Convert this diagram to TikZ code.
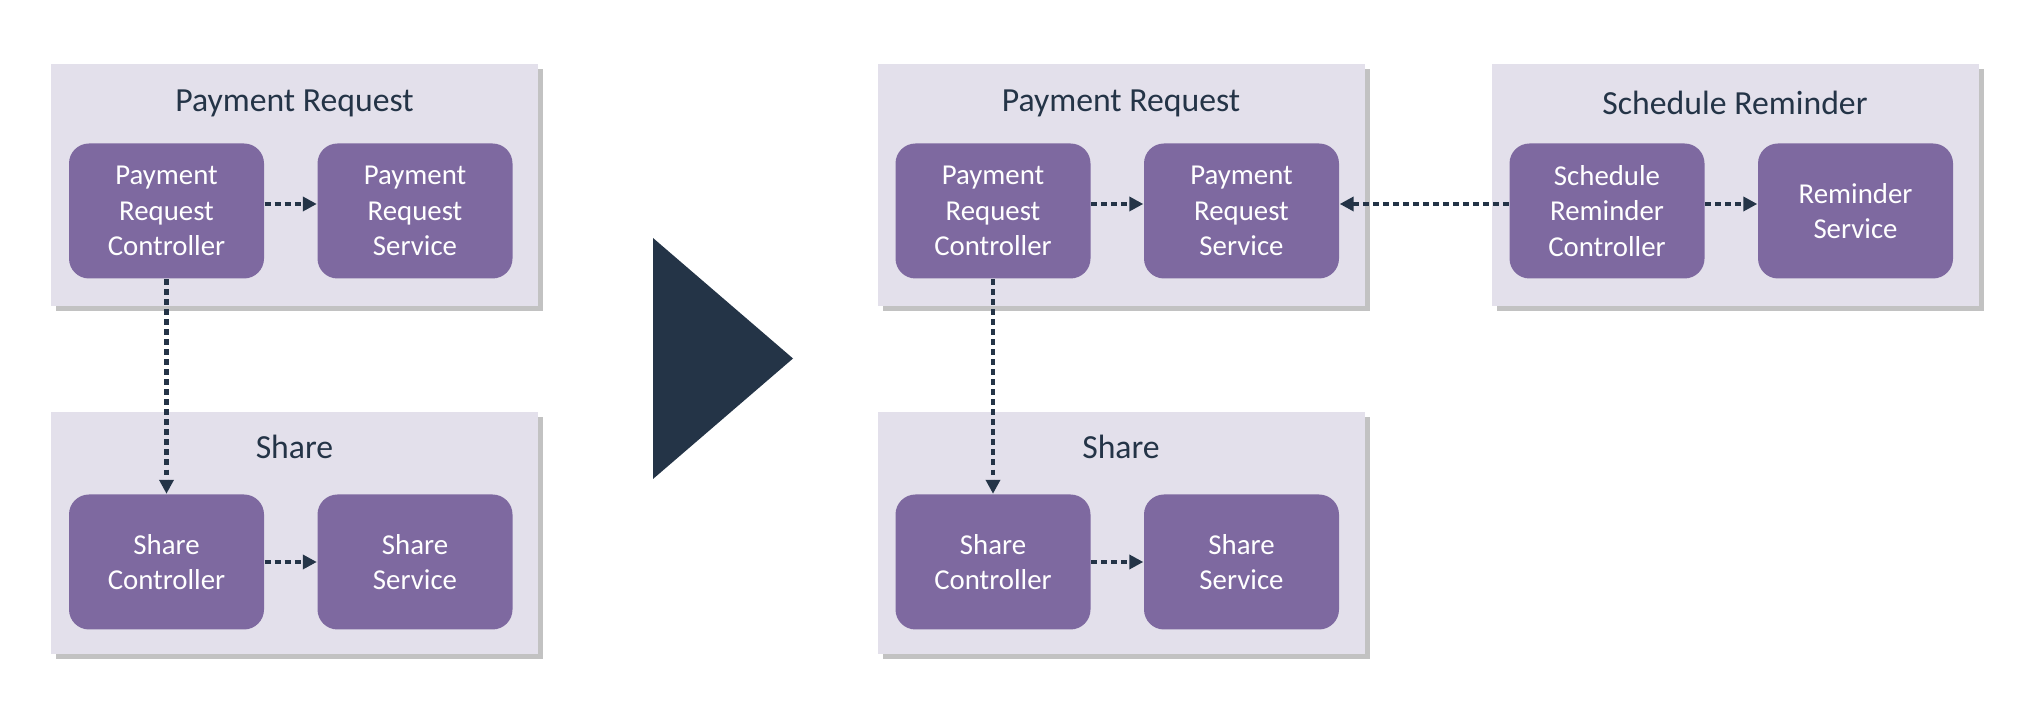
\documentclass[tikz,border=0pt]{standalone}
\usepackage{fontspec}
\setmainfont{Carlito}
\usetikzlibrary{arrows.meta, shadows}
\definecolor{grpfill}{HTML}{E3E0EB}
\definecolor{boxfill}{HTML}{7E69A0}
\definecolor{navy}{HTML}{243447}

\begin{document}
\begin{tikzpicture}[
  group/.style={rectangle, fill=grpfill, minimum width=4.87cm, minimum height=2.42cm, inner sep=0pt,
    drop shadow={shadow xshift=0.05cm, shadow yshift=-0.05cm, opacity=0.4, fill=black!60}},
  grouptitle/.style={text=navy, font=\fontsize{9.6}{11.5}\selectfont},
  comp/.style={rectangle, rounded corners=0.2cm, fill=boxfill, text=white, align=center,
    minimum width=1.95cm, minimum height=1.35cm, inner sep=0pt, font=\fontsize{8.2}{10}\selectfont},
  dep/.style={navy, line width=1.4pt, dash pattern=on 1.7pt off 1.15pt,
    -{Triangle[length=0.14cm, width=0.14cm]}}
]
\useasboundingbox (0,0) rectangle (20.24,7.02);

% before
\node[group] (lpr) at (2.945,5.17) {};
\node[grouptitle] (lprt) at ([yshift=-0.40cm]lpr.north) {Payment Request};
\node[comp] (lprc) at (1.665,4.91) {Payment\\Request\\Controller};
\node[comp] (lprs) at (4.15,4.91) {Payment\\Request\\Service};

\node[group] (lsh) at (2.945,1.685) {};
\node[grouptitle] (lsht) at ([yshift=-0.35cm]lsh.north) {Share};
\node[comp] (lshc) at (1.665,1.40) {Share\\Controller};
\node[comp] (lshs) at (4.15,1.40) {Share\\Service};

\draw[dep] ([yshift=0.07cm]lprc.east) -- ([yshift=0.07cm]lprs.west);
\draw[dep] (lshc.east) -- (lshs.west);
\draw[dep] (lprc.south) -- (lshc.north);

% big arrow
\fill[navy] (6.53,4.64) -- (7.93,3.435) -- (6.53,2.23) -- cycle;

% after
\node[group] (rpr) at (11.21,5.17) {};
\node[grouptitle] (rprt) at ([yshift=-0.40cm]rpr.north) {Payment Request};
\node[comp] (rprc) at (9.93,4.91) {Payment\\Request\\Controller};
\node[comp] (rprs) at (12.415,4.91) {Payment\\Request\\Service};

\node[group] (rsh) at (11.21,1.685) {};
\node[grouptitle] (rsht) at ([yshift=-0.35cm]rsh.north) {Share};
\node[comp] (rshc) at (9.93,1.40) {Share\\Controller};
\node[comp] (rshs) at (12.415,1.40) {Share\\Service};

\node[group] (srm) at (17.35,5.17) {};
\node[grouptitle] (srmt) at ([yshift=-0.40cm]srm.north) {Schedule Reminder};
\node[comp] (srmc) at (16.07,4.91) {Schedule\\Reminder\\Controller};
\node[comp] (srms) at (18.555,4.91) {Reminder\\Service};

\draw[dep] ([yshift=0.07cm]rprc.east) -- ([yshift=0.07cm]rprs.west);
\draw[dep] (rshc.east) -- (rshs.west);
\draw[dep] (rprc.south) -- (rshc.north);
\draw[dep] ([yshift=0.07cm]srmc.west) -- ([yshift=0.07cm]rprs.east);
\draw[dep] ([yshift=0.07cm]srmc.east) -- ([yshift=0.07cm]srms.west);
\end{tikzpicture}
\end{document}
